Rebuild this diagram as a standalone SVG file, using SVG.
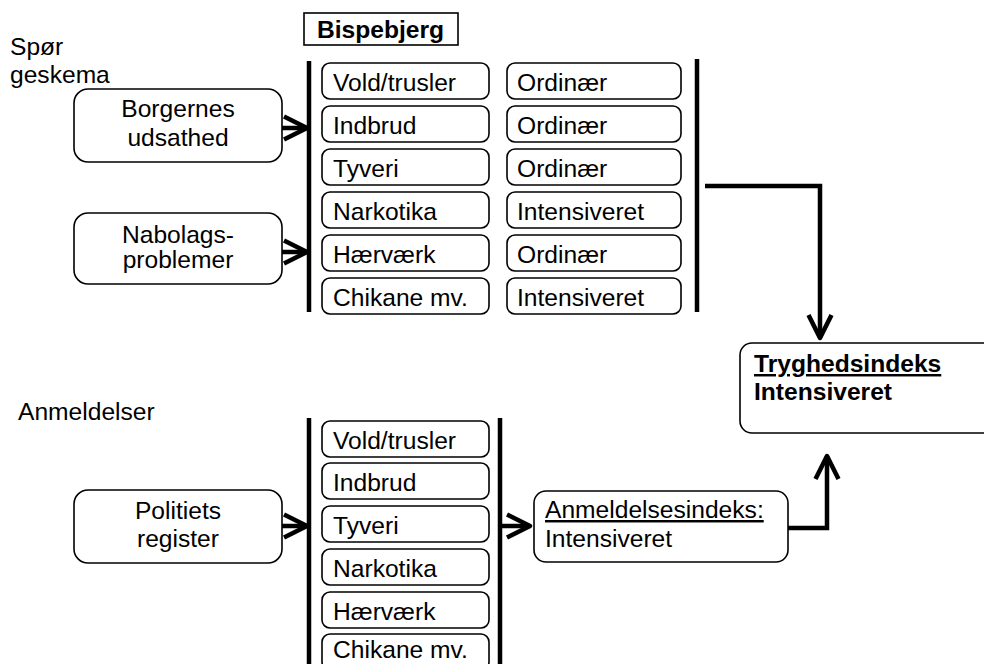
<svg xmlns="http://www.w3.org/2000/svg" width="984" height="664" viewBox="0 0 984 664">
<style>
  text { font-family: "Liberation Sans", Arial, sans-serif; font-size: 24.6px; fill: #000; }
  .b { font-weight: bold; }
  .c { text-anchor: middle; }
  .u { text-decoration: underline; }
  .box { fill: #fff; stroke: #000; stroke-width: 1.6; }
  .bar { stroke: #000; stroke-width: 4.5; fill: none; }
  .con { stroke: #000; stroke-width: 4.5; fill: none; stroke-linejoin: miter; }
</style>
<defs>
  <marker id="vee" markerUnits="userSpaceOnUse" viewBox="0 0 32 32" markerWidth="32" markerHeight="32" refX="25" refY="16" orient="auto">
    <path d="M2,4.5 L25,16 L2,27.5" fill="none" stroke="#000" stroke-width="4.5" stroke-linejoin="round" stroke-linecap="butt"/>
  </marker>
</defs>

<g id="labels">
  <text x="10" y="55">Spør</text>
  <text x="10" y="83">geskema</text>
  <text x="18" y="420">Anmeldelser</text>
</g>

<g id="bispebjerg">
  <rect x="304" y="13" width="154" height="32" fill="#fff" stroke="#000" stroke-width="1.6"/>
  <text class="b" x="317" y="38">Bispebjerg</text>
</g>

<g id="borgernes">
  <rect class="box" x="74" y="89" width="208" height="73" rx="14"/>
  <text class="c" x="178" y="117">Borgernes</text>
  <text class="c" x="178" y="146">udsathed</text>
</g>

<g id="nabolag">
  <rect class="box" x="74" y="213" width="208" height="71" rx="14"/>
  <text class="c" x="178" y="243">Nabolags-</text>
  <text class="c" x="178" y="268">problemer</text>
</g>

<g id="politiets">
  <rect class="box" x="74" y="490" width="208" height="73" rx="14"/>
  <text class="c" x="178" y="519">Politiets</text>
  <text class="c" x="178" y="547">register</text>
</g>

<g id="bars">
  <line class="bar" x1="309" y1="61" x2="309" y2="312"/>
  <line class="bar" x1="697" y1="59" x2="697" y2="312"/>
  <line class="bar" x1="309" y1="418" x2="309" y2="664"/>
  <line class="bar" x1="500" y1="418" x2="500" y2="664"/>
</g>

<g id="survey-crimes">
  <rect class="box" x="322" y="63" width="167" height="36" rx="8"/><text x="333" y="91">Vold/trusler</text>
  <rect class="box" x="322" y="106" width="167" height="36" rx="8"/><text x="333" y="134">Indbrud</text>
  <rect class="box" x="322" y="149" width="167" height="36" rx="8"/><text x="333" y="177">Tyveri</text>
  <rect class="box" x="322" y="192" width="167" height="36" rx="8"/><text x="333" y="220">Narkotika</text>
  <rect class="box" x="322" y="235" width="167" height="36" rx="8"/><text x="333" y="263">Hærværk</text>
  <rect class="box" x="322" y="278" width="167" height="36" rx="8"/><text x="333" y="306">Chikane mv.</text>
</g>

<g id="survey-levels">
  <rect class="box" x="507" y="63" width="174" height="36" rx="8"/><text x="517" y="91">Ordinær</text>
  <rect class="box" x="507" y="106" width="174" height="36" rx="8"/><text x="517" y="134">Ordinær</text>
  <rect class="box" x="507" y="149" width="174" height="36" rx="8"/><text x="517" y="177">Ordinær</text>
  <rect class="box" x="507" y="192" width="174" height="36" rx="8"/><text x="517" y="220">Intensiveret</text>
  <rect class="box" x="507" y="235" width="174" height="36" rx="8"/><text x="517" y="263">Ordinær</text>
  <rect class="box" x="507" y="278" width="174" height="36" rx="8"/><text x="517" y="306">Intensiveret</text>
</g>

<g id="report-crimes">
  <rect class="box" x="322" y="421" width="167" height="36" rx="8"/><text x="333" y="449">Vold/trusler</text>
  <rect class="box" x="322" y="463" width="167" height="36" rx="8"/><text x="333" y="491">Indbrud</text>
  <rect class="box" x="322" y="506" width="167" height="36" rx="8"/><text x="333" y="534">Tyveri</text>
  <rect class="box" x="322" y="549" width="167" height="36" rx="8"/><text x="333" y="577">Narkotika</text>
  <rect class="box" x="322" y="592" width="167" height="36" rx="8"/><text x="333" y="620">Hærværk</text>
  <rect class="box" x="322" y="634" width="167" height="36" rx="8"/><text x="333" y="658">Chikane mv.</text>
</g>

<g id="anmeldelsesindeks">
  <rect class="box" x="534" y="491" width="254" height="71" rx="12"/>
  <text class="u" x="545" y="518">Anmeldelsesindeks:</text>
  <text x="545" y="547">Intensiveret</text>
</g>

<g id="tryghedsindeks">
  <rect class="box" x="740" y="343" width="260" height="90" rx="12"/>
  <text class="b u" x="754" y="372">Tryghedsindeks</text>
  <text class="b" x="754" y="400">Intensiveret</text>
</g>

<g id="connectors">
  <path class="con" d="M282,128 L307,128" marker-end="url(#vee)"/>
  <path class="con" d="M282,252 L307,252" marker-end="url(#vee)"/>
  <path class="con" d="M282,526 L307,526" marker-end="url(#vee)"/>
  <path class="con" d="M500,526 L530,526" marker-end="url(#vee)"/>
  <path class="con" d="M705,186 L820,186 L820,338" marker-end="url(#vee)"/>
  <path class="con" d="M788,528 L827,528 L827,456" marker-end="url(#vee)"/>
</g>
</svg>
